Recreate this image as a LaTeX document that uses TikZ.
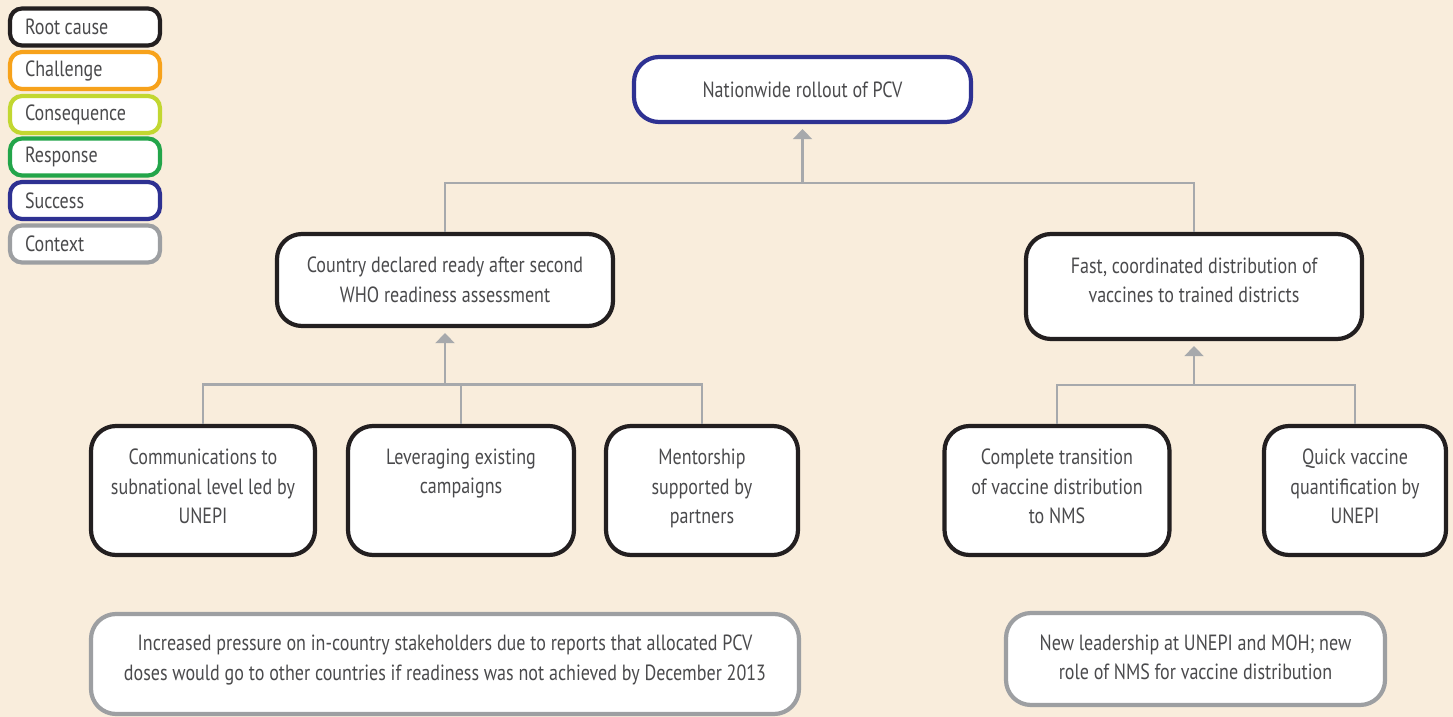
\documentclass[tikz,border=0pt]{standalone}
\usepackage{fontspec}
\setmainfont{PT Sans}[FakeStretch=0.82]
\usetikzlibrary{arrows.meta}
\definecolor{bg}{HTML}{F9EDDC}
\definecolor{rootc}{HTML}{231F20}
\definecolor{chal}{HTML}{F7A21B}
\definecolor{cons}{HTML}{C2D731}
\definecolor{resp}{HTML}{23A54A}
\definecolor{succ}{HTML}{2E3192}
\definecolor{ctx}{HTML}{9D9FA2}
\definecolor{conn}{HTML}{A7A9AC}
\definecolor{txt}{HTML}{4A4A4C}
\newcommand{\lift}[1]{\\[-#1pt]\mbox{}}
\begin{document}
\begin{tikzpicture}[x=1pt,y=-1pt,
  box/.style={draw=#1, fill=white, line width=4.2pt, rounded corners=25pt,
    align=center, text=txt, inner sep=0pt,
    font=\fontsize{22}{29.5}\selectfont},
  legbox/.style={draw=#1, fill=white, line width=4.2pt, rounded corners=12pt,
    minimum width=150pt, minimum height=37pt, text width=120pt, align=left,
    text=txt, inner sep=0pt, font=\fontsize{22}{24}\selectfont},
  conn/.style={draw=conn, line width=2.2pt},
  arr/.style={conn, -{Triangle[width=19pt,length=10pt]}, shorten >=5pt}]
\fill[bg] (0,0) rectangle (1453,717);
\useasboundingbox (0,0) rectangle (1453,717);

% legend
\node[legbox=rootc] (l1) at (85,27) {Root\hspace{0.2em}cause};
\node[legbox=chal] (l2) at (85,70.5) {Challenge};
\node[legbox=cons] (l3) at (85,114.5) {Consequence};
\node[legbox=resp] (l4) at (85,157) {Response};
\node[legbox=succ] (l5) at (85,200.5) {Success};
\node[legbox=ctx] (l6) at (85,244) {Context};

% main boxes
\node[box=succ, minimum width=337pt, minimum height=65pt] (top) at (802.5,89.5) {Nationwide rollout of PCV};
\node[box=rootc, minimum width=336pt, minimum height=92pt] (country) at (445,280) {Country declared ready after second\\WHO readiness assessment};
\node[box=rootc, minimum width=336pt, minimum height=105pt] (fast) at (1194,286.5) {Fast, coordinated distribution of\\vaccines to trained districts\lift{16.5}};

\node[box=rootc, minimum width=224pt, minimum height=129pt] (comm) at (203,490.5) {Communications to\\subnational level led by\\UNEPI\lift{21.5}};
\node[box=rootc, minimum width=226pt, minimum height=129pt] (lev) at (461,490.5) {Leveraging existing\\campaigns\\[0pt]\strut};
\node[box=rootc, minimum width=192pt, minimum height=129pt] (ment) at (702,490.5) {Mentorship\\supported by\\partners\lift{21}};
\node[box=rootc, minimum width=225pt, minimum height=129pt] (comp) at (1057,490.5) {Complete transition\\of vaccine distribution\\to NMS\lift{21.5}};
\node[box=rootc, minimum width=182pt, minimum height=129pt] (quick) at (1355,490.5) {Quick vaccine\\quantification by\\UNEPI\lift{21.5}};

\node[box=ctx, minimum width=708pt, minimum height=100pt] (press) at (445,664) {Increased pressure on in-country stakeholders due to reports that allocated PCV\\doses would go to other countries if readiness was not achieved by December 2013\lift{17}};
\node[box=ctx, minimum width=379pt, minimum height=92pt] (newl) at (1195.5,659) {New leadership at UNEPI and MOH; new\\role of NMS for vaccine distribution\lift{25.5}};

% connectors
\coordinate (j1) at (802.5,183);
\coordinate (j2) at (445,384.5);
\coordinate (j3) at (1194,385);

\draw[conn] (country.north) |- (j1) -| (fast.north);
\draw[arr] (j1) -- (top.south);

\draw[conn] (comm.north) |- (j2) -| (ment.north);
\draw[conn] (lev.north) -- (lev.north |- j2);
\draw[arr] (j2) -- (country.south);

\draw[conn] (comp.north) |- (j3) -| (quick.north);
\draw[arr] (j3) -- (fast.south);
\end{tikzpicture}
\end{document}
